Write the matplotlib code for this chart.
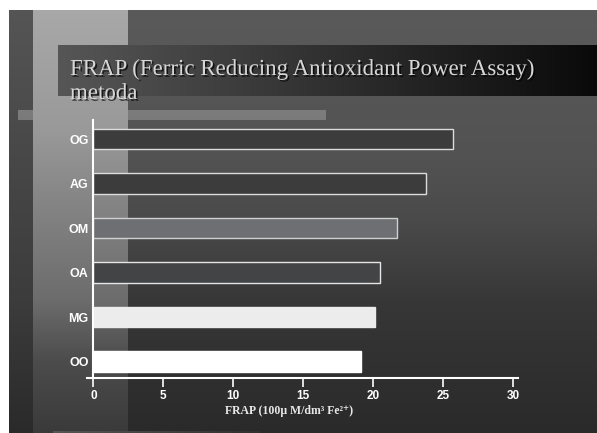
import numpy as np
import matplotlib.pyplot as plt
from matplotlib import patheffects

###############################################################################
groups = ['OO', 'MG', 'OA', 'OM', 'AG', 'OG']
frap = [19.15, 20.1, 20.45, 21.7, 23.8, 25.7]
bar_colors = ['#ffffff', '#ececec', '#434446', '#6e6f73', '#3c3c3c', '#3c3c3c']
edge_colors = ['#ffffff', '#ececec', '#e6e6e6', '#d0d0d0', '#dcdcdc', '#dcdcdc']
xticks = [0, 5, 10, 15, 20, 25, 30]
TITLE1 = 'FRAP (Ferric Reducing Antioxidant Power Assay)'
TITLE2 = 'metoda'
XLABEL = 'FRAP (100\u00b5 M/dm\u00b3 Fe\u00b2\u207a)'
###############################################################################
W, H = 597, 433
fig = plt.figure(figsize=(W / 100, H / 100), dpi=100)

# slide background painted as an image (pixel coordinates)
img = np.ones((H, W, 3))

def vfill(x0, x1, ys, grays):
    rows = np.arange(ys[0], ys[-1])
    g = np.interp(rows, ys, grays) / 255
    img[ys[0]:ys[-1], x0:x1] = g[:, None, None]

def hfill(x0, x1, y0, y1, c_left, c_right):
    t = np.linspace(0, 1, x1 - x0)[None, :, None]
    img[y0:y1, x0:x1] = (np.array(c_left) * (1 - t) + np.array(c_right) * t) / 255

vfill(9, W, [10, 160, 220, 300, 433], [90, 82, 74, 55, 42])
vfill(9, 33, [10, 200, 300, 433], [85, 68, 60, 42])
vfill(18, 326, [110, 120], [124, 122])
vfill(33, 128, [10, 130, 200, 300, 360, 433], [168, 153, 133, 108, 76, 58])
hfill(58, W, 45, 96, (86, 86, 86), (10, 10, 10))
hfill(53, 260, 431, H, (85, 85, 85), (48, 48, 48))

ax_bg = fig.add_axes([0, 0, 1, 1])
ax_bg.imshow(img, extent=(0, W, H, 0), aspect='auto', interpolation='nearest')
ax_bg.set_xlim(0, W)
ax_bg.set_ylim(H, 0)
ax_bg.axis('off')

shadow = [patheffects.withSimplePatchShadow(offset=(1.2, -1.2), shadow_rgbFace='black', alpha=0.7)]
ax_bg.text(70, 75, TITLE1, fontsize=16.5, family='Liberation Serif', color='#d6d6d6',
           va='baseline', path_effects=shadow)
ax_bg.text(70, 99, TITLE2, fontsize=16.5, family='Liberation Serif', color='#d6d6d6',
           va='baseline', path_effects=shadow)
###############################################################################
ax = fig.add_axes([86.5 / W, (H - 378) / H, 431.5 / W, 258 / H])
ax.set_facecolor('none')
ax.barh(range(len(groups)), frap, height=0.46, color=bar_colors,
        edgecolor=edge_colors, linewidth=1)

ax.set_xlim(-0.5, 30.35)
ax.set_ylim(-0.37, 5.43)

for side in ['top', 'right']:
    ax.spines[side].set_visible(False)
ax.spines['left'].set_position(('data', 0))
for side in ['left', 'bottom']:
    ax.spines[side].set_color('white')
    ax.spines[side].set_linewidth(1.5)

ax.set_xticks(xticks)
ax.set_xticklabels([str(v) for v in xticks], fontweight='bold', family='Liberation Sans')
ax.tick_params(axis='x', direction='out', length=6.5, width=1.2, color='white',
               labelcolor='white', pad=2, labelsize=8.5)

ax.set_yticks(range(len(groups)))
ax.set_yticklabels(groups, fontweight='bold', family='Liberation Sans')
ax.tick_params(axis='y', length=0, pad=3.5, labelcolor='white', labelsize=9)

ax.set_xlabel(XLABEL, fontsize=8.5, fontweight='bold', color='#e8e8e8',
              family=['Liberation Serif', 'DejaVu Serif'])
ax.xaxis.set_label_coords(0.469, -0.105)

fig.savefig('out.png', dpi=100)
